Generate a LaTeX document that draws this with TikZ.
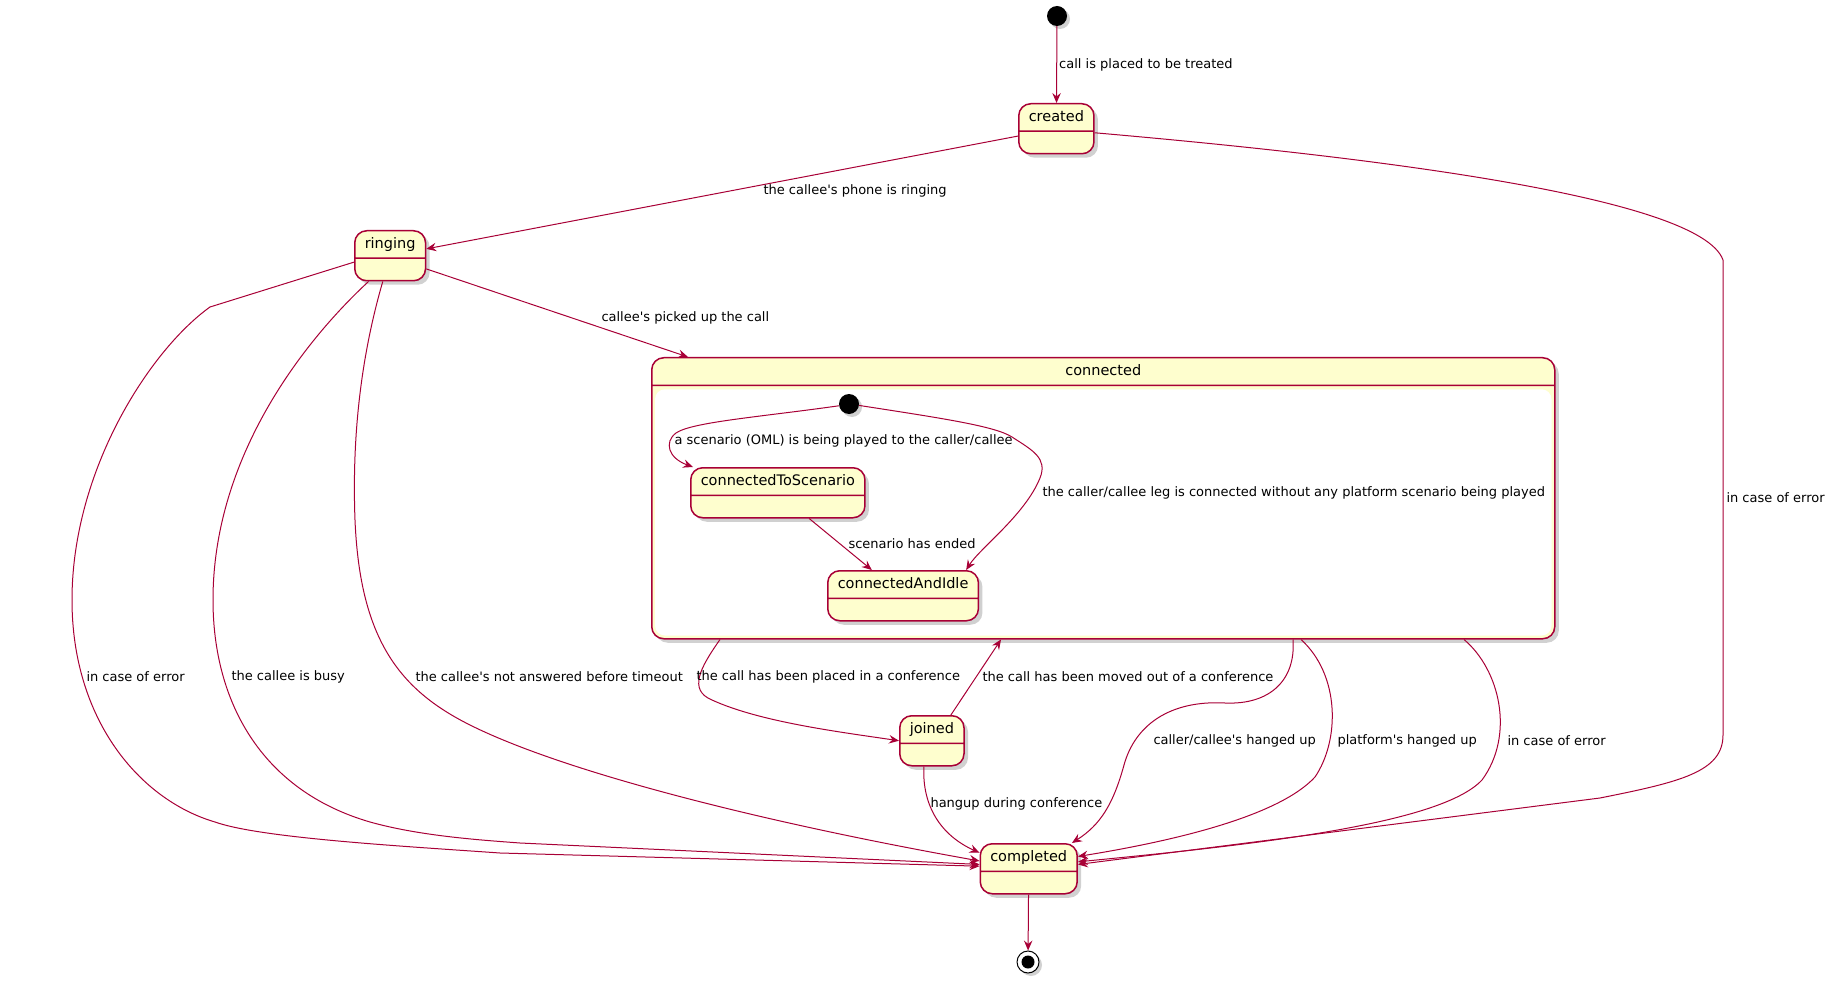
\documentclass[tikz,border=0pt]{standalone}
\usepackage{fontspec}
\setmainfont{DejaVu Sans}
\usepackage{tikz}
\usetikzlibrary{
    arrows.meta,
    shapes.multipart,
    shadows
}
\definecolor{umlred}{HTML}{A80036}
\definecolor{umlfill}{HTML}{FEFECE}
\newcommand{\q}{\textquotesingle}
\tikzset{
    state/.style={rectangle split, rectangle split parts=2,
        rectangle split empty part height=9pt,
        draw=umlred, fill=umlfill, line width=1.5pt, rounded corners=12pt,
        inner xsep=10pt, inner ysep=6pt, text height=11pt, text depth=3pt,
        font=\fontsize{14.5}{16}\selectfont, anchor=north west,
        drop shadow={shadow xshift=4pt, shadow yshift=-4pt, opacity=.3, fill=black!60}},
    startstate/.style={circle, fill=black, minimum size=20pt, inner sep=0pt,
        drop shadow={shadow xshift=3pt, shadow yshift=-3pt, opacity=.3, fill=black!60}},
    endstate/.style={circle, draw=black, fill=white, line width=1pt, minimum size=22pt, inner sep=0pt,
        path picture={\fill[black] (path picture bounding box.center) circle (6.5pt);},
        drop shadow={shadow xshift=3pt, shadow yshift=-3pt, opacity=.3, fill=black!60}},
    tr/.style={draw=umlred, line width=1pt, -{Stealth[length=10pt,width=8.5pt,inset=3.5pt]}},
    lbl/.style={font=\fontsize{13}{15}\selectfont, anchor=west, inner sep=0pt}
}

\begin{document}
\begin{tikzpicture}[x=1pt,y=-1pt]
    \useasboundingbox (0,0) rectangle (1829,984);

    % states
    \node[startstate] (start) at (1057,16) {};
    \node[state] (created) at (1018,103) {created\nodepart{two}};
    \node[state] (ringing) at (354,230) {ringing\nodepart{two}};
    \node[state, minimum width=903pt, rectangle split empty part height=240pt]
        (connected) at (651,357) {connected\nodepart{two}};
    \fill[white, rounded corners=10pt] ([shift={(4pt,-4pt)}]connected.text split west)
        rectangle ([shift={(-4pt,4pt)}]connected.south east);
    \node[startstate] (start2) at (849,404) {};
    \node[state] (toScenario) at (690,467) {connectedToScenario\nodepart{two}};
    \node[state] (idle) at (827,570) {connectedAndIdle\nodepart{two}};
    \node[state] (joined) at (899,715) {joined\nodepart{two}};
    \node[state] (completed) at (979.5,843) {completed\nodepart{two}};
    \node[endstate] (stop) at (1028,962) {};

    % transitions
    \draw[tr] (start) -- node[lbl, right=2pt] (lPlaced) {call is placed to be treated} (created);
    \draw[tr] (created) -- (ringing)
        node[lbl, at={(763,191)}] (lRinging) {the callee\q s phone is ringing};
    \draw[tr] (ringing.-20) -- ([xshift=37pt]connected.north west)
        node[lbl, at={(601,318)}] (lPicked) {callee\q s picked up the call};
    \draw[tr] (ringing.190) -- (210,307) .. controls (150,350) and (72,470) .. (72,600)
        .. controls (72,720) and (140,800) .. (215,822) .. controls (260,838) and (400,846) .. (500,853)
        -- (completed.177)
        node[lbl, at={(86,677)}] (lError1) {in case of error};
    \draw[tr] (ringing.230) .. controls (300,345) and (213,460) .. (213,600)
        .. controls (213,700) and (260,790) .. (370,822) .. controls (420,836) and (480,840) .. (520,843)
        -- (completed.175)
        node[lbl, at={(231,677)}] (lBusy) {the callee is busy};
    \draw[tr] (ringing.254) .. controls (360,360) and (352,440) .. (355,520)
        .. controls (360,640) and (400,690) .. (470,725) .. controls (560,770) and (750,820) .. (completed.171)
        node[lbl, at={(415,677)}] (lTimeout) {the callee\q s not answered before timeout};
    \draw[tr] (start2.190) .. controls (760,417) and (692,422) .. (676,433)
        .. controls (664,442) and (668,458) .. ([xshift=3pt]toScenario.north west)
        node[lbl, at={(674,441)}] (lScenario) {a scenario (OML) is being played to the caller/callee};
    \draw[tr] (start2.-8) .. controls (940,418) and (995,426) .. (1012,437)
        .. controls (1032,450) and (1048,458) .. (1040,478) .. controls (1025,515) and (980,548)
        .. ([xshift=-13pt]idle.north east)
        node[lbl, at={(1042,493)}] (lNoScenario) {the caller/callee leg is connected without any platform scenario being played};
    \draw[tr] (toScenario) -- (idle)
        node[lbl, at={(848,544)}] (lEnded) {scenario has ended};
    \draw[tr] ([xshift=69pt]connected.south west) .. controls (700,668) and (688,690) .. (712,700)
        .. controls (760,722) and (840,732) .. (joined.west)
        node[lbl, at={(696,677)}] (lPlacedConf) {the call has been placed in a conference};
    \draw[tr] ([xshift=19pt]joined.north) -- ([xshift=350pt]connected.south west)
        node[lbl, at={(982,677)}] (lMovedOut) {the call has been moved out of a conference};
    \draw[tr] ([xshift=-8pt]joined.south) .. controls (922,805) and (940,835) .. (completed.162)
        node[lbl, at={(930,804)}] (lHangConf) {hangup during conference};
    \draw[tr] ([xshift=642pt]connected.south west) .. controls (1296,680) and (1270,705) .. (1225,703)
        .. controls (1170,700) and (1135,725) .. (1124,765) .. controls (1113,805) and (1100,825)
        .. ([xshift=-6pt]completed.north east)
        node[lbl, at={(1153,741)}] (lHangUser) {caller/callee\q s hanged up};
    \draw[tr] ([xshift=650pt]connected.south west) .. controls (1340,675) and (1340,740) .. (1315,777)
        .. controls (1280,815) and (1180,840) .. (completed.14)
        node[lbl, at={(1337,741)}] (lHangPlatform) {platform\q s hanged up};
    \draw[tr] ([xshift=813pt]connected.south west) .. controls (1500,670) and (1515,735) .. (1482,780)
        .. controls (1440,825) and (1250,845) .. (completed.8)
        node[lbl, at={(1507,741)}] (lError2) {in case of error};
    \draw[tr] (created.-6) .. controls (1350,155) and (1700,195) .. (1723,260) -- (1723,735)
        .. controls (1723,772) and (1680,782) .. (1600,798) -- (completed.5)
        node[lbl, at={(1726,498)}] (lError3) {in case of error};
    \draw[tr] (completed) -- (stop);
\end{tikzpicture}
\end{document}
